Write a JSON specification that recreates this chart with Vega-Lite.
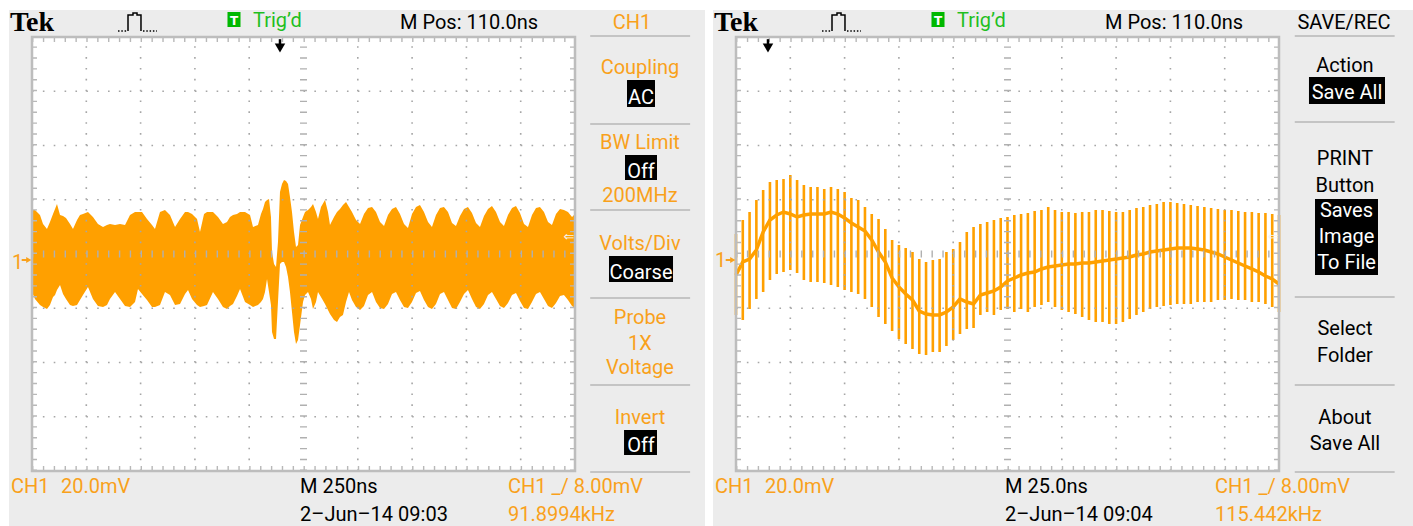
{
"$schema": "https://vega.github.io/schema/vega-lite/v6.json",
"background": "#ffffff",
"padding": {"left": 9, "top": 8, "right": 0, "bottom": 0},
"spacing": 8,
"bounds": "flush",
"config": {
  "view": {"fill": "#ececec", "stroke": null},
  "text": {"font": "Roboto", "fontSize": 20, "baseline": "alphabetic"}
},
"datasets": {
  "screen": [{"x": 0, "x2": 10, "y": -4, "y2": 4}],
  "vgrid": [{"x": 1}, {"x": 2}, {"x": 3}, {"x": 4}, {"x": 6}, {"x": 7}, {"x": 8}, {"x": 9}],
  "hgrid": [{"y": -3}, {"y": -2}, {"y": -1}, {"y": 1}, {"y": 2}, {"y": 3}],
  "tek": [{"x": -0.405, "y": 4.111, "t": "Tek"}],
  "trigBox": [{"x": 3.60, "x2": 3.84, "y": 4.461, "y2": 4.184}],
  "trigT": [{"x": 3.72, "y": 4.23, "t": "T"}],
  "trigd": [{"x": 4.07, "y": 4.184, "t": "Trig’d"}],
  "pulse": [{"i": 0, "x": 1.768, "y": 4.111}, {"i": 1, "x": 1.768, "y": 4.406}, {"i": 2, "x": 1.860, "y": 4.406}, {"i": 3, "x": 1.860, "y": 4.442}, {"i": 4, "x": 1.934, "y": 4.442}, {"i": 5, "x": 1.934, "y": 4.406}, {"i": 6, "x": 2.007, "y": 4.406}, {"i": 7, "x": 2.007, "y": 4.111}],
  "pulseDots": [{"x": 1.584, "x2": 1.750, "y": 4.111}, {"x": 2.044, "x2": 2.302, "y": 4.111}],
  "chArrow": [{"x": -0.19, "x2": -0.07, "y": -0.111}],
  "chHead": [{"x": -0.06, "y": -0.111}],
  "lvl": [{"x": 9.99, "y": 0.31, "t": "⇐"}],
  "waveL": [
{"x":0,"hi":0.811,"lo":-0.700},{"x":0.055,"hi":0.811,"lo":-0.829},{"x":0.147,"hi":0.719,"lo":-0.940},{"x":0.203,"hi":0.553,"lo":-0.977},{"x":0.276,"hi":0.461,"lo":-1.014},{"x":0.331,"hi":0.590,"lo":-0.940},{"x":0.387,"hi":0.737,"lo":-0.793},{"x":0.424,"hi":0.829,"lo":-0.756},{"x":0.460,"hi":0.922,"lo":-0.664},{"x":0.516,"hi":0.719,"lo":-0.571},
{"x":0.571,"hi":0.700,"lo":-0.737},{"x":0.626,"hi":0.664,"lo":-0.829},{"x":0.700,"hi":0.553,"lo":-0.940},{"x":0.755,"hi":0.461,"lo":-0.959},{"x":0.829,"hi":0.627,"lo":-0.940},{"x":0.884,"hi":0.719,"lo":-0.848},{"x":0.939,"hi":0.737,"lo":-0.756},{"x":1.031,"hi":0.774,"lo":-0.608},{"x":1.123,"hi":0.682,"lo":-0.829},{"x":1.215,"hi":0.553,"lo":-0.959},
{"x":1.308,"hi":0.498,"lo":-0.977},{"x":1.381,"hi":0.535,"lo":-0.940},{"x":1.436,"hi":0.553,"lo":-0.829},{"x":1.529,"hi":0.535,"lo":-0.700},{"x":1.621,"hi":0.553,"lo":-0.829},{"x":1.713,"hi":0.535,"lo":-0.959},{"x":1.805,"hi":0.719,"lo":-0.977},{"x":1.897,"hi":0.774,"lo":-0.885},{"x":1.952,"hi":0.774,"lo":-0.645},{"x":2.026,"hi":0.774,"lo":-0.737},
{"x":2.118,"hi":0.645,"lo":-0.848},{"x":2.210,"hi":0.535,"lo":-0.977},{"x":2.265,"hi":0.461,"lo":-0.977},{"x":2.357,"hi":0.774,"lo":-0.940},{"x":2.449,"hi":0.811,"lo":-0.700},{"x":2.541,"hi":0.719,"lo":-0.756},{"x":2.634,"hi":0.498,"lo":-0.940},{"x":2.726,"hi":0.645,"lo":-0.922},{"x":2.818,"hi":0.774,"lo":-0.737},{"x":2.873,"hi":0.774,"lo":-0.664},
{"x":2.947,"hi":0.737,"lo":-0.829},{"x":3.039,"hi":0.645,"lo":-0.940},{"x":3.094,"hi":0.406,"lo":-0.977},{"x":3.168,"hi":0.737,"lo":-0.959},{"x":3.223,"hi":0.774,"lo":-0.940},{"x":3.333,"hi":0.774,"lo":-0.700},{"x":3.425,"hi":0.682,"lo":-0.829},{"x":3.517,"hi":0.553,"lo":-0.977},{"x":3.591,"hi":0.590,"lo":-1.014},{"x":3.646,"hi":0.682,"lo":-0.959},
{"x":3.702,"hi":0.719,"lo":-0.922},{"x":3.775,"hi":0.737,"lo":-0.774},{"x":3.831,"hi":0.774,"lo":-0.645},{"x":3.923,"hi":0.774,"lo":-0.885},{"x":4.015,"hi":0.719,"lo":-0.940},{"x":4.070,"hi":0.498,"lo":-0.977},{"x":4.162,"hi":0.535,"lo":-0.940},{"x":4.217,"hi":0.737,"lo":-0.885},{"x":4.254,"hi":0.829,"lo":-0.829},{"x":4.291,"hi":0.959,"lo":-0.700},
{"x":4.328,"hi":0.995,"lo":-0.461},{"x":4.365,"hi":1.014,"lo":-0.700},{"x":4.401,"hi":0.682,"lo":-0.940},{"x":4.420,"hi":0.037,"lo":-1.438},{"x":4.457,"hi":-0.184,"lo":-1.567},{"x":4.494,"hi":-0.240,"lo":-1.567},{"x":4.530,"hi":0.221,"lo":-0.885},{"x":4.567,"hi":1.143,"lo":-0.184},{"x":4.604,"hi":1.290,"lo":-0.147},{"x":4.641,"hi":1.364,"lo":-0.147},
{"x":4.678,"hi":1.346,"lo":-0.240},{"x":4.715,"hi":1.290,"lo":-0.424},{"x":4.751,"hi":1.051,"lo":-0.700},{"x":4.788,"hi":0.774,"lo":-1.069},{"x":4.825,"hi":0.406,"lo":-1.438},{"x":4.862,"hi":0.129,"lo":-1.659},{"x":4.899,"hi":0.166,"lo":-1.585},{"x":4.936,"hi":0.535,"lo":-1.309},{"x":4.991,"hi":0.682,"lo":-0.885},{"x":5.028,"hi":0.774,"lo":-0.756},
{"x":5.083,"hi":0.811,"lo":-0.700},{"x":5.138,"hi":0.866,"lo":-0.829},{"x":5.175,"hi":0.922,"lo":-1.014},{"x":5.230,"hi":0.774,"lo":-0.885},{"x":5.267,"hi":0.645,"lo":-0.700},{"x":5.322,"hi":0.866,"lo":-0.793},{"x":5.396,"hi":0.995,"lo":-0.922},{"x":5.451,"hi":0.774,"lo":-1.032},{"x":5.488,"hi":0.535,"lo":-1.106},{"x":5.562,"hi":0.682,"lo":-1.217},
{"x":5.617,"hi":0.774,"lo":-1.253},{"x":5.672,"hi":0.829,"lo":-1.161},{"x":5.727,"hi":0.903,"lo":-1.124},{"x":5.783,"hi":0.959,"lo":-0.885},{"x":5.838,"hi":0.866,"lo":-0.700},{"x":5.893,"hi":0.774,"lo":-0.848},{"x":5.967,"hi":0.627,"lo":-0.977},{"x":6.041,"hi":0.553,"lo":-1.032},{"x":6.114,"hi":0.737,"lo":-0.959},{"x":6.188,"hi":0.848,"lo":-0.756},
{"x":6.262,"hi":0.866,"lo":-0.700},{"x":6.335,"hi":0.774,"lo":-0.885},{"x":6.409,"hi":0.590,"lo":-0.995},{"x":6.483,"hi":0.516,"lo":-1.014},{"x":6.556,"hi":0.719,"lo":-0.922},{"x":6.630,"hi":0.829,"lo":-0.737},{"x":6.703,"hi":0.866,"lo":-0.700},{"x":6.777,"hi":0.737,"lo":-0.848},{"x":6.851,"hi":0.553,"lo":-0.977},{"x":6.924,"hi":0.479,"lo":-0.995},
{"x":6.998,"hi":0.737,"lo":-0.885},{"x":7.072,"hi":0.866,"lo":-0.719},{"x":7.145,"hi":0.903,"lo":-0.682},{"x":7.219,"hi":0.774,"lo":-0.848},{"x":7.293,"hi":0.590,"lo":-0.977},{"x":7.366,"hi":0.498,"lo":-1.014},{"x":7.440,"hi":0.719,"lo":-0.922},{"x":7.514,"hi":0.848,"lo":-0.737},{"x":7.587,"hi":0.866,"lo":-0.700},{"x":7.661,"hi":0.774,"lo":-0.848},
{"x":7.735,"hi":0.571,"lo":-0.995},{"x":7.808,"hi":0.516,"lo":-1.014},{"x":7.882,"hi":0.700,"lo":-0.885},{"x":7.956,"hi":0.829,"lo":-0.737},{"x":8.029,"hi":0.866,"lo":-0.664},{"x":8.103,"hi":0.756,"lo":-0.829},{"x":8.177,"hi":0.571,"lo":-0.977},{"x":8.250,"hi":0.498,"lo":-1.014},{"x":8.324,"hi":0.700,"lo":-0.922},{"x":8.398,"hi":0.829,"lo":-0.756},
{"x":8.471,"hi":0.885,"lo":-0.700},{"x":8.545,"hi":0.774,"lo":-0.829},{"x":8.619,"hi":0.590,"lo":-0.959},{"x":8.692,"hi":0.516,"lo":-0.995},{"x":8.766,"hi":0.719,"lo":-0.903},{"x":8.840,"hi":0.848,"lo":-0.756},{"x":8.913,"hi":0.885,"lo":-0.719},{"x":8.987,"hi":0.756,"lo":-0.866},{"x":9.061,"hi":0.553,"lo":-0.995},{"x":9.134,"hi":0.498,"lo":-1.014},
{"x":9.208,"hi":0.719,"lo":-0.885},{"x":9.282,"hi":0.848,"lo":-0.737},{"x":9.355,"hi":0.866,"lo":-0.700},{"x":9.429,"hi":0.774,"lo":-0.829},{"x":9.503,"hi":0.590,"lo":-0.959},{"x":9.576,"hi":0.535,"lo":-0.995},{"x":9.650,"hi":0.737,"lo":-0.903},{"x":9.724,"hi":0.829,"lo":-0.774},{"x":9.797,"hi":0.811,"lo":-0.756},{"x":9.871,"hi":0.774,"lo":-0.848},
{"x":9.945,"hi":0.682,"lo":-0.959},{"x":10.0,"hi":0.737,"lo":-0.995}
  ],
  "waveR": [
{"x":0,"hi":0.369,"lo":-1.124,"mid":-0.387},{"x":0.125,"hi":0.627,"lo":-1.217,"mid":-0.147},{"x":0.25,"hi":0.774,"lo":-1.014,"mid":-0.092},{"x":0.375,"hi":0.995,"lo":-0.829,"mid":0.074},{"x":0.5,"hi":1.180,"lo":-0.700,"mid":0.406},{"x":0.625,"hi":1.327,"lo":-0.479,"mid":0.627},{"x":0.75,"hi":1.364,"lo":-0.369,"mid":0.719},{"x":0.875,"hi":1.382,"lo":-0.332,"mid":0.774},{"x":1.0,"hi":1.456,"lo":-0.295,"mid":0.737},{"x":1.125,"hi":1.364,"lo":-0.350,"mid":0.682},
{"x":1.25,"hi":1.272,"lo":-0.479,"mid":0.719},{"x":1.375,"hi":1.235,"lo":-0.516,"mid":0.737},{"x":1.5,"hi":1.235,"lo":-0.516,"mid":0.737},{"x":1.625,"hi":1.198,"lo":-0.535,"mid":0.737},{"x":1.75,"hi":1.235,"lo":-0.571,"mid":0.774},{"x":1.875,"hi":1.198,"lo":-0.608,"mid":0.737},{"x":2.0,"hi":1.143,"lo":-0.664,"mid":0.664},{"x":2.125,"hi":1.032,"lo":-0.700,"mid":0.571},{"x":2.25,"hi":0.995,"lo":-0.737,"mid":0.498},{"x":2.375,"hi":0.866,"lo":-0.829,"mid":0.424},
{"x":2.5,"hi":0.737,"lo":-0.977,"mid":0.258},{"x":2.625,"hi":0.645,"lo":-1.161,"mid":0.037},{"x":2.75,"hi":0.461,"lo":-1.290,"mid":-0.147},{"x":2.875,"hi":0.258,"lo":-1.419,"mid":-0.442},{"x":3.0,"hi":0.166,"lo":-1.567,"mid":-0.608},{"x":3.125,"hi":0.111,"lo":-1.659,"mid":-0.737},{"x":3.25,"hi":0.037,"lo":-1.751,"mid":-0.848},{"x":3.375,"hi":-0.092,"lo":-1.843,"mid":-1.051},{"x":3.5,"hi":-0.147,"lo":-1.862,"mid":-1.106},{"x":3.625,"hi":-0.111,"lo":-1.806,"mid":-1.124},
{"x":3.75,"hi":-0.092,"lo":-1.806,"mid":-1.124},{"x":3.875,"hi":0.037,"lo":-1.696,"mid":-1.069},{"x":4.0,"hi":0.092,"lo":-1.585,"mid":-0.977},{"x":4.125,"hi":0.221,"lo":-1.475,"mid":-0.829},{"x":4.25,"hi":0.406,"lo":-1.382,"mid":-0.885},{"x":4.375,"hi":0.498,"lo":-1.364,"mid":-0.922},{"x":4.5,"hi":0.553,"lo":-1.124,"mid":-0.756},{"x":4.625,"hi":0.590,"lo":-1.069,"mid":-0.719},{"x":4.75,"hi":0.627,"lo":-1.124,"mid":-0.682},{"x":4.875,"hi":0.664,"lo":-1.032,"mid":-0.608},
{"x":5.0,"hi":0.682,"lo":-1.014,"mid":-0.498},{"x":5.125,"hi":0.719,"lo":-1.069,"mid":-0.442},{"x":5.25,"hi":0.737,"lo":-1.014,"mid":-0.387},{"x":5.375,"hi":0.756,"lo":-1.069,"mid":-0.350},{"x":5.5,"hi":0.793,"lo":-0.977,"mid":-0.332},{"x":5.625,"hi":0.811,"lo":-0.940,"mid":-0.276},{"x":5.75,"hi":0.866,"lo":-0.885,"mid":-0.240},{"x":5.875,"hi":0.811,"lo":-0.977,"mid":-0.221},{"x":6.0,"hi":0.774,"lo":-1.032,"mid":-0.203},{"x":6.125,"hi":0.774,"lo":-1.069,"mid":-0.184},
{"x":6.25,"hi":0.756,"lo":-1.106,"mid":-0.184},{"x":6.375,"hi":0.774,"lo":-1.161,"mid":-0.166},{"x":6.5,"hi":0.774,"lo":-1.217,"mid":-0.166},{"x":6.625,"hi":0.811,"lo":-1.253,"mid":-0.147},{"x":6.75,"hi":0.811,"lo":-1.253,"mid":-0.129},{"x":6.875,"hi":0.793,"lo":-1.290,"mid":-0.111},{"x":7.0,"hi":0.774,"lo":-1.290,"mid":-0.092},{"x":7.125,"hi":0.774,"lo":-1.253,"mid":-0.074},{"x":7.25,"hi":0.811,"lo":-1.198,"mid":-0.055},{"x":7.375,"hi":0.848,"lo":-1.124,"mid":-0.018},
{"x":7.5,"hi":0.866,"lo":-1.069,"mid":0},{"x":7.625,"hi":0.903,"lo":-1.014,"mid":0.037},{"x":7.75,"hi":0.922,"lo":-0.977,"mid":0.055},{"x":7.875,"hi":0.959,"lo":-0.959,"mid":0.074},{"x":8.0,"hi":0.959,"lo":-0.940,"mid":0.092},{"x":8.125,"hi":0.940,"lo":-0.922,"mid":0.111},{"x":8.25,"hi":0.922,"lo":-0.922,"mid":0.111},{"x":8.375,"hi":0.903,"lo":-0.922,"mid":0.111},{"x":8.5,"hi":0.885,"lo":-0.885,"mid":0.092},{"x":8.625,"hi":0.866,"lo":-0.885,"mid":0.074},
{"x":8.75,"hi":0.848,"lo":-0.885,"mid":0.037},{"x":8.875,"hi":0.829,"lo":-0.848,"mid":0},{"x":9.0,"hi":0.811,"lo":-0.848,"mid":-0.055},{"x":9.125,"hi":0.811,"lo":-0.829,"mid":-0.111},{"x":9.25,"hi":0.793,"lo":-0.848,"mid":-0.166},{"x":9.375,"hi":0.774,"lo":-0.848,"mid":-0.221},{"x":9.5,"hi":0.774,"lo":-0.885,"mid":-0.276},{"x":9.625,"hi":0.756,"lo":-0.885,"mid":-0.332},{"x":9.75,"hi":0.756,"lo":-0.922,"mid":-0.406},{"x":9.875,"hi":0.737,"lo":-0.977,"mid":-0.461},
{"x":10.0,"hi":0.719,"lo":-1.069,"mid":-0.553}
  ]
},
"hconcat": [
{
  "width": 696, "height": 518,
  "layer": [
    {"data": {"name": "screen"}, "mark": {"type": "rect", "fill": "#ffffff"},
     "encoding": {"x": {"field": "x", "type": "quantitative", "axis": null, "scale": {"domain": [-0.4236, 12.3941], "nice": false, "zero": false}}, "x2": {"field": "x2"},
                  "y": {"field": "y", "type": "quantitative", "axis": null, "scale": {"domain": [-5.0507, 4.4977], "nice": false, "zero": false}}, "y2": {"field": "y2"}}},
    {"data": {"name": "waveL"}, "mark": {"type": "area", "color": "#ffa000"},
     "encoding": {"x": {"field": "x", "type": "quantitative", "axis": null}, "y": {"field": "hi", "type": "quantitative", "axis": null}, "y2": {"field": "lo"}}},
    {"data": {"name": "vgrid"}, "mark": {"type": "rule", "color": "#a6a6a6", "strokeWidth": 1.6, "strokeDash": [1.6, 9.25]},
     "encoding": {"x": {"field": "x", "type": "quantitative", "axis": null}, "y": {"datum": -4, "type": "quantitative", "axis": null}, "y2": {"datum": 4}}},
    {"data": {"name": "hgrid"}, "mark": {"type": "rule", "color": "#a6a6a6", "strokeWidth": 1.6, "strokeDash": [1.6, 9.26]},
     "encoding": {"y": {"field": "y", "type": "quantitative", "axis": null}, "x": {"datum": 0, "type": "quantitative", "axis": null}, "x2": {"datum": 10}}},
    {"data": {"values": [{}]}, "mark": {"type": "rule", "color": "#b0b0b0", "strokeWidth": 7, "strokeDash": [1.4, 9.45]},
     "encoding": {"x": {"datum": 5, "type": "quantitative", "axis": null}, "y": {"datum": -4, "type": "quantitative", "axis": null}, "y2": {"datum": 4}}},
    {"data": {"values": [{}]}, "mark": {"type": "rule", "color": "#b0b0b0", "strokeWidth": 7, "strokeDash": [1.4, 9.46]},
     "encoding": {"y": {"datum": 0, "type": "quantitative", "axis": null}, "x": {"datum": 0, "type": "quantitative", "axis": null}, "x2": {"datum": 10}}},
    {"data": {"values": [{}]}, "mark": {"type": "rule", "color": "#b8b8b8", "strokeWidth": 5, "strokeDash": [1.4, 9.45]},
     "encoding": {"x": {"datum": 0.046, "type": "quantitative", "axis": null}, "y": {"datum": -4, "type": "quantitative", "axis": null}, "y2": {"datum": 4}}},
    {"data": {"values": [{}]}, "mark": {"type": "rule", "color": "#b8b8b8", "strokeWidth": 5, "strokeDash": [1.4, 9.45]},
     "encoding": {"x": {"datum": 9.954, "type": "quantitative", "axis": null}, "y": {"datum": -4, "type": "quantitative", "axis": null}, "y2": {"datum": 4}}},
    {"data": {"values": [{}]}, "mark": {"type": "rule", "color": "#b8b8b8", "strokeWidth": 5, "strokeDash": [1.4, 9.46]},
     "encoding": {"y": {"datum": 3.954, "type": "quantitative", "axis": null}, "x": {"datum": 0, "type": "quantitative", "axis": null}, "x2": {"datum": 10}}},
    {"data": {"values": [{}]}, "mark": {"type": "rule", "color": "#b8b8b8", "strokeWidth": 5, "strokeDash": [1.4, 9.46]},
     "encoding": {"y": {"datum": -3.954, "type": "quantitative", "axis": null}, "x": {"datum": 0, "type": "quantitative", "axis": null}, "x2": {"datum": 10}}},
    {"data": {"name": "screen"}, "mark": {"type": "rect", "fill": "transparent", "stroke": "#bdbdbd", "strokeWidth": 2.5},
     "encoding": {"x": {"field": "x", "type": "quantitative", "axis": null}, "x2": {"field": "x2"}, "y": {"field": "y", "type": "quantitative", "axis": null}, "y2": {"field": "y2"}}},
    {"data": {"values": [{"y": 4.018}, {"y": 2.396}, {"y": 0.811}, {"y": -0.811}, {"y": -2.415}, {"y": -4.018}]},
     "mark": {"type": "rule", "color": "#c4c4c4", "strokeWidth": 2},
     "encoding": {"y": {"field": "y", "type": "quantitative", "axis": null}, "x": {"datum": 10.28, "type": "quantitative", "axis": null}, "x2": {"datum": 12.12}}},
    {"data": {"values": [{"x": 10.958, "x2": 11.473, "y": 3.207, "y2": 2.710}, {"x": 10.921, "x2": 11.510, "y": 1.825, "y2": 1.364}, {"x": 10.626, "x2": 11.805, "y": -0.037, "y2": -0.516}, {"x": 10.903, "x2": 11.510, "y": -3.244, "y2": -3.705}]},
     "mark": {"type": "rect", "fill": "#000000"},
     "encoding": {"x": {"field": "x", "type": "quantitative", "axis": null}, "x2": {"field": "x2"}, "y": {"field": "y", "type": "quantitative", "axis": null}, "y2": {"field": "y2"}}},
    {"data": {"values": [{"x": 11.215, "y": 2.765, "t": "AC"}, {"x": 11.215, "y": 1.401, "t": "Off"}, {"x": 11.215, "y": -0.461, "t": "Coarse"}, {"x": 11.215, "y": -3.650, "t": "Off"}]},
     "mark": {"type": "text", "color": "#ffffff", "align": "center"},
     "encoding": {"x": {"field": "x", "type": "quantitative", "axis": null}, "y": {"field": "y", "type": "quantitative", "axis": null}, "text": {"field": "t"}}},
    {"data": {"values": [{"x": 11.05, "y": 4.147, "t": "CH1"}, {"x": 11.197, "y": 3.318, "t": "Coupling"}, {"x": 11.197, "y": 1.935, "t": "BW Limit"}, {"x": 11.197, "y": 0.959, "t": "200MHz"}, {"x": 11.197, "y": 0.074, "t": "Volts/Div"}, {"x": 11.197, "y": -1.290, "t": "Probe"}, {"x": 11.197, "y": -1.770, "t": "1X"}, {"x": 11.197, "y": -2.212, "t": "Voltage"}, {"x": 11.197, "y": -3.134, "t": "Invert"}]},
     "mark": {"type": "text", "color": "#f9a11b", "align": "center"},
     "encoding": {"x": {"field": "x", "type": "quantitative", "axis": null}, "y": {"field": "y", "type": "quantitative", "axis": null}, "text": {"field": "t"}}},
    {"data": {"values": [{"x": -0.387, "y": -4.406, "t": "CH1"}, {"x": 0.534, "y": -4.406, "t": "20.0mV"}, {"x": 8.766, "y": -4.406, "t": "CH1 _/ 8.00mV"}, {"x": 8.766, "y": -4.922, "t": "91.8994kHz"}, {"x": -0.37, "y": -0.276, "t": "1"}]},
     "mark": {"type": "text", "color": "#f9a11b", "align": "left"},
     "encoding": {"x": {"field": "x", "type": "quantitative", "axis": null}, "y": {"field": "y", "type": "quantitative", "axis": null}, "text": {"field": "t"}}},
    {"data": {"values": [{"x": 6.777, "y": 4.147, "t": "M Pos: 110.0ns"}, {"x": 4.936, "y": -4.406, "t": "M 250ns"}, {"x": 4.936, "y": -4.922, "t": "2–Jun–14 09:03"}]},
     "mark": {"type": "text", "color": "#000000", "align": "left"},
     "encoding": {"x": {"field": "x", "type": "quantitative", "axis": null}, "y": {"field": "y", "type": "quantitative", "axis": null}, "text": {"field": "t"}}},
    {"data": {"name": "tek"}, "mark": {"type": "text", "color": "#000000", "align": "left", "font": "Liberation Serif", "fontWeight": "bold", "fontSize": 28},
     "encoding": {"x": {"field": "x", "type": "quantitative", "axis": null}, "y": {"field": "y", "type": "quantitative", "axis": null}, "text": {"field": "t"}}},
    {"data": {"name": "trigBox"}, "mark": {"type": "rect", "fill": "#00b800"},
     "encoding": {"x": {"field": "x", "type": "quantitative", "axis": null}, "x2": {"field": "x2"}, "y": {"field": "y", "type": "quantitative", "axis": null}, "y2": {"field": "y2"}}},
    {"data": {"name": "trigT"}, "mark": {"type": "text", "color": "#ffffff", "align": "center", "font": "DejaVu Sans", "fontWeight": "bold", "fontSize": 12},
     "encoding": {"x": {"field": "x", "type": "quantitative", "axis": null}, "y": {"field": "y", "type": "quantitative", "axis": null}, "text": {"field": "t"}}},
    {"data": {"name": "trigd"}, "mark": {"type": "text", "color": "#1fbf1f", "align": "left"},
     "encoding": {"x": {"field": "x", "type": "quantitative", "axis": null}, "y": {"field": "y", "type": "quantitative", "axis": null}, "text": {"field": "t"}}},
    {"data": {"name": "pulse"}, "mark": {"type": "line", "color": "#000000", "strokeWidth": 1.5},
     "encoding": {"x": {"field": "x", "type": "quantitative", "axis": null}, "y": {"field": "y", "type": "quantitative", "axis": null}, "order": {"field": "i"}}},
    {"data": {"name": "pulseDots"}, "mark": {"type": "rule", "color": "#000000", "strokeWidth": 1.5, "strokeDash": [1.5, 1.8]},
     "encoding": {"x": {"field": "x", "type": "quantitative", "axis": null}, "x2": {"field": "x2"}, "y": {"field": "y", "type": "quantitative", "axis": null}}},
    {"data": {"values": [{"x": 4.567, "y": 3.96, "y2": 3.83}]}, "mark": {"type": "rule", "color": "#000000", "strokeWidth": 2.5},
     "encoding": {"x": {"field": "x", "type": "quantitative", "axis": null}, "y": {"field": "y", "type": "quantitative", "axis": null}, "y2": {"field": "y2"}}},
    {"data": {"values": [{"x": 4.567, "y": 3.797}]}, "mark": {"type": "point", "shape": "triangle-down", "filled": true, "color": "#000000", "size": 110, "opacity": 1},
     "encoding": {"x": {"field": "x", "type": "quantitative", "axis": null}, "y": {"field": "y", "type": "quantitative", "axis": null}}},
    {"data": {"name": "chArrow"}, "mark": {"type": "rule", "color": "#f9a11b", "strokeWidth": 2},
     "encoding": {"x": {"field": "x", "type": "quantitative", "axis": null}, "x2": {"field": "x2"}, "y": {"field": "y", "type": "quantitative", "axis": null}}},
    {"data": {"name": "chHead"}, "mark": {"type": "point", "shape": "triangle-right", "filled": true, "color": "#f9a11b", "size": 35, "opacity": 1},
     "encoding": {"x": {"field": "x", "type": "quantitative", "axis": null}, "y": {"field": "y", "type": "quantitative", "axis": null}}},
    {"data": {"name": "lvl"}, "mark": {"type": "text", "color": "#f4f4f4", "align": "right", "baseline": "middle", "font": "DejaVu Sans", "fontSize": 13},
     "encoding": {"x": {"field": "x", "type": "quantitative", "axis": null}, "y": {"field": "y", "type": "quantitative", "axis": null}, "text": {"field": "t"}}}
  ]
},
{
  "width": 700, "height": 518,
  "layer": [
    {"data": {"name": "screen"}, "mark": {"type": "rect", "fill": "#ffffff"},
     "encoding": {"x": {"field": "x", "type": "quantitative", "axis": null, "scale": {"domain": [-0.4236, 12.4677], "nice": false, "zero": false}}, "x2": {"field": "x2"},
                  "y": {"field": "y", "type": "quantitative", "axis": null, "scale": {"domain": [-5.0507, 4.4977], "nice": false, "zero": false}}, "y2": {"field": "y2"}}},
    {"data": {"name": "waveR"}, "mark": {"type": "rule", "color": "#ffa000", "strokeWidth": 2.6},
     "encoding": {"x": {"field": "x", "type": "quantitative", "axis": null}, "y": {"field": "hi", "type": "quantitative", "axis": null}, "y2": {"field": "lo"}}},
    {"data": {"name": "waveR"}, "mark": {"type": "line", "color": "#ffa000", "strokeWidth": 3.5},
     "encoding": {"x": {"field": "x", "type": "quantitative", "axis": null}, "y": {"field": "mid", "type": "quantitative", "axis": null}}},
    {"data": {"name": "vgrid"}, "mark": {"type": "rule", "color": "#a6a6a6", "strokeWidth": 1.6, "strokeDash": [1.6, 9.25]},
     "encoding": {"x": {"field": "x", "type": "quantitative", "axis": null}, "y": {"datum": -4, "type": "quantitative", "axis": null}, "y2": {"datum": 4}}},
    {"data": {"name": "hgrid"}, "mark": {"type": "rule", "color": "#a6a6a6", "strokeWidth": 1.6, "strokeDash": [1.6, 9.26]},
     "encoding": {"y": {"field": "y", "type": "quantitative", "axis": null}, "x": {"datum": 0, "type": "quantitative", "axis": null}, "x2": {"datum": 10}}},
    {"data": {"values": [{}]}, "mark": {"type": "rule", "color": "#b0b0b0", "strokeWidth": 7, "strokeDash": [1.4, 9.45]},
     "encoding": {"x": {"datum": 5, "type": "quantitative", "axis": null}, "y": {"datum": -4, "type": "quantitative", "axis": null}, "y2": {"datum": 4}}},
    {"data": {"values": [{}]}, "mark": {"type": "rule", "color": "#b0b0b0", "strokeWidth": 7, "strokeDash": [1.4, 9.46]},
     "encoding": {"y": {"datum": 0, "type": "quantitative", "axis": null}, "x": {"datum": 0, "type": "quantitative", "axis": null}, "x2": {"datum": 10}}},
    {"data": {"values": [{}]}, "mark": {"type": "rule", "color": "#b8b8b8", "strokeWidth": 5, "strokeDash": [1.4, 9.45]},
     "encoding": {"x": {"datum": 0.046, "type": "quantitative", "axis": null}, "y": {"datum": -4, "type": "quantitative", "axis": null}, "y2": {"datum": 4}}},
    {"data": {"values": [{}]}, "mark": {"type": "rule", "color": "#b8b8b8", "strokeWidth": 5, "strokeDash": [1.4, 9.45]},
     "encoding": {"x": {"datum": 9.954, "type": "quantitative", "axis": null}, "y": {"datum": -4, "type": "quantitative", "axis": null}, "y2": {"datum": 4}}},
    {"data": {"values": [{}]}, "mark": {"type": "rule", "color": "#b8b8b8", "strokeWidth": 5, "strokeDash": [1.4, 9.46]},
     "encoding": {"y": {"datum": 3.954, "type": "quantitative", "axis": null}, "x": {"datum": 0, "type": "quantitative", "axis": null}, "x2": {"datum": 10}}},
    {"data": {"values": [{}]}, "mark": {"type": "rule", "color": "#b8b8b8", "strokeWidth": 5, "strokeDash": [1.4, 9.46]},
     "encoding": {"y": {"datum": -3.954, "type": "quantitative", "axis": null}, "x": {"datum": 0, "type": "quantitative", "axis": null}, "x2": {"datum": 10}}},
    {"data": {"name": "screen"}, "mark": {"type": "rect", "fill": "transparent", "stroke": "#bdbdbd", "strokeWidth": 2.5},
     "encoding": {"x": {"field": "x", "type": "quantitative", "axis": null}, "x2": {"field": "x2"}, "y": {"field": "y", "type": "quantitative", "axis": null}, "y2": {"field": "y2"}}},
    {"data": {"values": [{"y": 4.018}, {"y": 2.433}, {"y": -0.793}, {"y": -2.415}, {"y": -4.018}]},
     "mark": {"type": "rule", "color": "#c4c4c4", "strokeWidth": 2},
     "encoding": {"y": {"field": "y", "type": "quantitative", "axis": null}, "x": {"datum": 10.29, "type": "quantitative", "axis": null}, "x2": {"datum": 12.13}}},
    {"data": {"values": [{"x": 10.552, "x2": 11.952, "y": 3.263, "y2": 2.765}, {"x": 10.663, "x2": 11.823, "y": 1.014, "y2": -0.387}]},
     "mark": {"type": "rect", "fill": "#000000"},
     "encoding": {"x": {"field": "x", "type": "quantitative", "axis": null}, "x2": {"field": "x2"}, "y": {"field": "y", "type": "quantitative", "axis": null}, "y2": {"field": "y2"}}},
    {"data": {"values": [{"x": 11.252, "y": 2.85, "t": "Save All"}, {"x": 11.243, "y": 0.682, "t": "Saves"}, {"x": 11.243, "y": 0.203, "t": "Image"}, {"x": 11.243, "y": -0.276, "t": "To File"}]},
     "mark": {"type": "text", "color": "#ffffff", "align": "center"},
     "encoding": {"x": {"field": "x", "type": "quantitative", "axis": null}, "y": {"field": "y", "type": "quantitative", "axis": null}, "text": {"field": "t"}}},
    {"data": {"values": [{"x": 11.197, "y": 4.147, "t": "SAVE/REC"}, {"x": 11.215, "y": 3.355, "t": "Action"}, {"x": 11.215, "y": 1.641, "t": "PRINT"}, {"x": 11.215, "y": 1.143, "t": "Button"}, {"x": 11.215, "y": -1.493, "t": "Select"}, {"x": 11.215, "y": -1.991, "t": "Folder"}, {"x": 11.215, "y": -3.134, "t": "About"}, {"x": 11.215, "y": -3.613, "t": "Save All"}]},
     "mark": {"type": "text", "color": "#000000", "align": "center"},
     "encoding": {"x": {"field": "x", "type": "quantitative", "axis": null}, "y": {"field": "y", "type": "quantitative", "axis": null}, "text": {"field": "t"}}},
    {"data": {"values": [{"x": -0.387, "y": -4.406, "t": "CH1"}, {"x": 0.534, "y": -4.406, "t": "20.0mV"}, {"x": 8.821, "y": -4.406, "t": "CH1 _/ 8.00mV"}, {"x": 8.821, "y": -4.922, "t": "115.442kHz"}, {"x": -0.387, "y": -0.240, "t": "1"}]},
     "mark": {"type": "text", "color": "#f9a11b", "align": "left"},
     "encoding": {"x": {"field": "x", "type": "quantitative", "axis": null}, "y": {"field": "y", "type": "quantitative", "axis": null}, "text": {"field": "t"}}},
    {"data": {"values": [{"x": 6.796, "y": 4.147, "t": "M Pos: 110.0ns"}, {"x": 4.954, "y": -4.406, "t": "M 25.0ns"}, {"x": 4.954, "y": -4.922, "t": "2–Jun–14 09:04"}]},
     "mark": {"type": "text", "color": "#000000", "align": "left"},
     "encoding": {"x": {"field": "x", "type": "quantitative", "axis": null}, "y": {"field": "y", "type": "quantitative", "axis": null}, "text": {"field": "t"}}},
    {"data": {"name": "tek"}, "mark": {"type": "text", "color": "#000000", "align": "left", "font": "Liberation Serif", "fontWeight": "bold", "fontSize": 28},
     "encoding": {"x": {"field": "x", "type": "quantitative", "axis": null}, "y": {"field": "y", "type": "quantitative", "axis": null}, "text": {"field": "t"}}},
    {"data": {"name": "trigBox"}, "mark": {"type": "rect", "fill": "#00b800"},
     "encoding": {"x": {"field": "x", "type": "quantitative", "axis": null}, "x2": {"field": "x2"}, "y": {"field": "y", "type": "quantitative", "axis": null}, "y2": {"field": "y2"}}},
    {"data": {"name": "trigT"}, "mark": {"type": "text", "color": "#ffffff", "align": "center", "font": "DejaVu Sans", "fontWeight": "bold", "fontSize": 12},
     "encoding": {"x": {"field": "x", "type": "quantitative", "axis": null}, "y": {"field": "y", "type": "quantitative", "axis": null}, "text": {"field": "t"}}},
    {"data": {"name": "trigd"}, "mark": {"type": "text", "color": "#1fbf1f", "align": "left"},
     "encoding": {"x": {"field": "x", "type": "quantitative", "axis": null}, "y": {"field": "y", "type": "quantitative", "axis": null}, "text": {"field": "t"}}},
    {"data": {"name": "pulse"}, "mark": {"type": "line", "color": "#000000", "strokeWidth": 1.5},
     "encoding": {"x": {"field": "x", "type": "quantitative", "axis": null}, "y": {"field": "y", "type": "quantitative", "axis": null}, "order": {"field": "i"}}},
    {"data": {"name": "pulseDots"}, "mark": {"type": "rule", "color": "#000000", "strokeWidth": 1.5, "strokeDash": [1.5, 1.8]},
     "encoding": {"x": {"field": "x", "type": "quantitative", "axis": null}, "x2": {"field": "x2"}, "y": {"field": "y", "type": "quantitative", "axis": null}}},
    {"data": {"values": [{"x": 0.589, "y": 3.96, "y2": 3.83}]}, "mark": {"type": "rule", "color": "#000000", "strokeWidth": 2.5},
     "encoding": {"x": {"field": "x", "type": "quantitative", "axis": null}, "y": {"field": "y", "type": "quantitative", "axis": null}, "y2": {"field": "y2"}}},
    {"data": {"values": [{"x": 0.589, "y": 3.797}]}, "mark": {"type": "point", "shape": "triangle-down", "filled": true, "color": "#000000", "size": 110, "opacity": 1},
     "encoding": {"x": {"field": "x", "type": "quantitative", "axis": null}, "y": {"field": "y", "type": "quantitative", "axis": null}}},
    {"data": {"name": "chArrow"}, "mark": {"type": "rule", "color": "#f9a11b", "strokeWidth": 2},
     "encoding": {"x": {"field": "x", "type": "quantitative", "axis": null}, "x2": {"field": "x2"}, "y": {"field": "y", "type": "quantitative", "axis": null}}},
    {"data": {"name": "chHead"}, "mark": {"type": "point", "shape": "triangle-right", "filled": true, "color": "#f9a11b", "size": 35, "opacity": 1},
     "encoding": {"x": {"field": "x", "type": "quantitative", "axis": null}, "y": {"field": "y", "type": "quantitative", "axis": null}}},
    {"data": {"name": "lvl"}, "mark": {"type": "text", "color": "#f4f4f4", "align": "right", "baseline": "middle", "font": "DejaVu Sans", "fontSize": 13},
     "encoding": {"x": {"field": "x", "type": "quantitative", "axis": null}, "y": {"field": "y", "type": "quantitative", "axis": null}, "text": {"field": "t"}}}
  ]
}
]
}
